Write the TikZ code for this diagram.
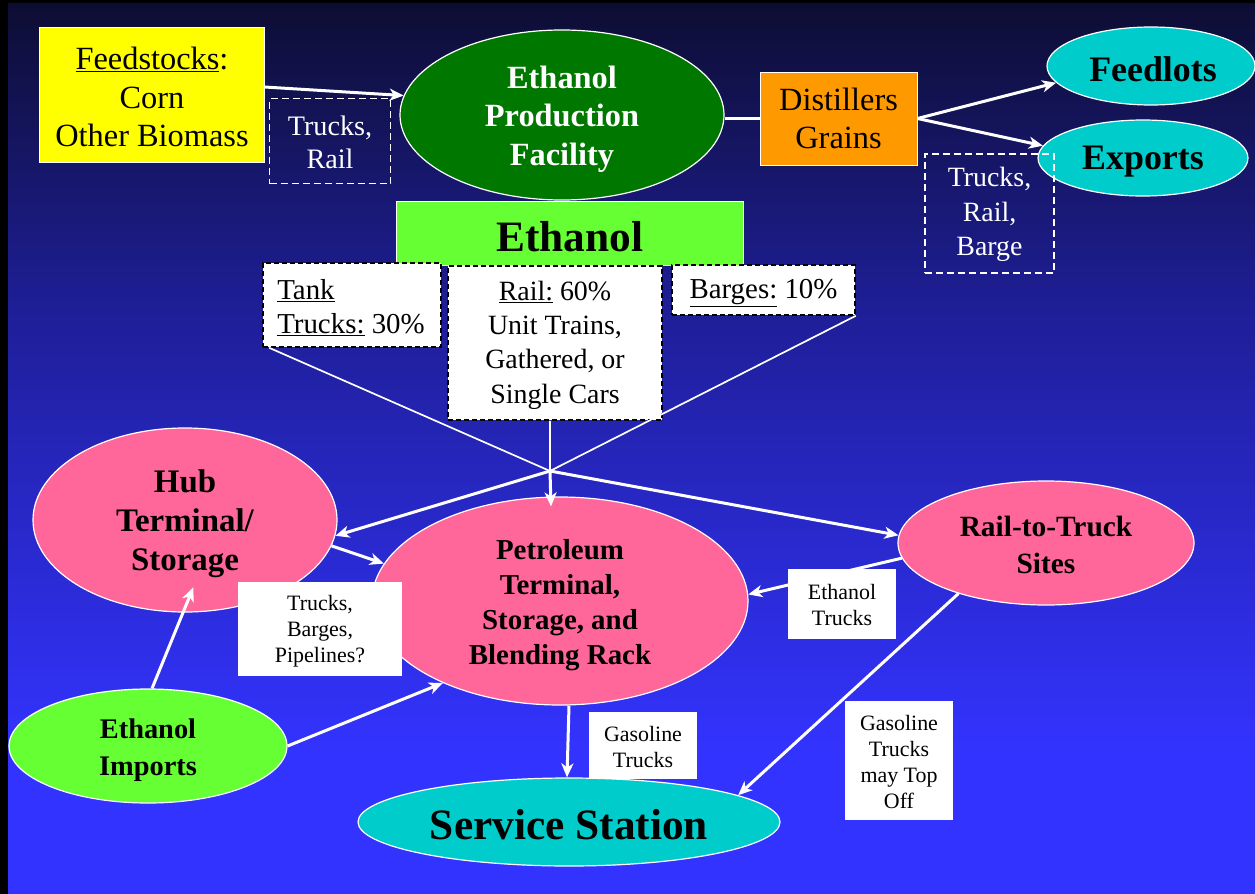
\documentclass[tikz,border=0pt]{standalone}
\usepackage{fontspec}
\setmainfont{Liberation Serif}
\usetikzlibrary{shapes.geometric,arrows.meta,calc}
\definecolor{bgT}{RGB}{13,13,50}
\definecolor{bgM}{RGB}{30,30,150}
\definecolor{bgB}{RGB}{51,51,255}
\definecolor{feedyellow}{RGB}{255,255,0}
\definecolor{ethgreen}{RGB}{0,120,0}
\definecolor{lgreen}{RGB}{102,255,51}
\definecolor{dorange}{RGB}{255,153,0}
\definecolor{teal2}{RGB}{0,204,204}
\definecolor{pink2}{RGB}{255,102,153}
\pgfdeclareverticalshading{bgshade}{100bp}{color(0bp)=(bgB); color(33bp)=(bgB); color(58bp)=(bgM); color(75bp)=(bgT); color(100bp)=(bgT)}
\newcommand\fsz[2]{\fontsize{#1}{#2}\selectfont}
\tikzset{
  ell/.style={ellipse, draw=white, line width=1.2bp, inner sep=0pt},
  fbox/.style={rectangle, draw=white, line width=1bp, inner sep=0pt},
  wdash/.style={rectangle, draw=white, line width=1.3bp, dash pattern=on 7bp off 4bp, inner sep=0pt},
  kdash/.style={rectangle, draw=black, fill=white, line width=1.6bp, dash pattern=on 5bp off 3bp, inner sep=0pt},
  wlabel/.style={rectangle, fill=white, inner sep=0pt},
  txt/.style={inner sep=0pt, align=center},
  arr/.style={draw=white, line width=3bp, -{Stealth[length=14bp,width=12bp,inset=4bp]}},
  thinw/.style={draw=white, line width=1.7bp},
  plainw/.style={draw=white, line width=3bp}
}
\begin{document}
\begin{tikzpicture}[x=1bp,y=-1bp]
\useasboundingbox (0,0) rectangle (1255,894);
\shade[shading=bgshade] (0,0) rectangle (1255,894);
\fill[black] (0,0) rectangle (8,894);
\fill[black] (0,0) rectangle (1255,3);

% top row
\node[fbox, fill=feedyellow, minimum width=224bp, minimum height=134bp] (feed) at (152,95) {};
\node[txt, font=\fsz{32.5}{39}] (feedT) at ([yshift=-2bp]feed.center) {\underline{Feedstocks}:\\Corn\\Other Biomass};
\node[wdash, minimum width=121bp, minimum height=85bp] (tr1) at (330,141) {};
\node[txt, text=white, font=\fsz{28.3}{33}] (tr1T) at ([yshift=-1bp]tr1.center) {Trucks,\\Rail};
\node[ell, fill=ethgreen, minimum width=324bp, minimum height=170bp] (ethprod) at (562,115) {};
\node[txt, text=white, font=\bfseries\fsz{32.5}{38.5}] (ethprodT) at ([yshift=-4bp]ethprod.center) {Ethanol\\Production\\Facility};
\node[fbox, fill=dorange, minimum width=157bp, minimum height=93bp] (dist) at (838.5,118.5) {};
\node[txt, font=\fsz{32.5}{38}] (distT) at (dist.center) {Distillers\\Grains};
\node[ell, fill=teal2, minimum width=208bp, minimum height=78bp] (feedlots) at (1151,66) {};
\node[txt, font=\bfseries\fsz{36}{40}] (feedlotsT) at ([xshift=2bp,yshift=-3bp]feedlots.center) {Feedlots};
\node[ell, fill=teal2, minimum width=210bp, minimum height=76bp] (exports) at (1143,158) {};
\node[txt, font=\bfseries\fsz{36}{40}] (exportsT) at ([yshift=-4bp]exports.center) {Exports};
\node[wdash, minimum width=129bp, minimum height=119bp] (tr2) at (989.5,213.5) {};
\node[txt, text=white, font=\fsz{28}{34.5}] (tr2T) at ([yshift=-1bp]tr2.center) {Trucks,\\Rail,\\Barge};

% ethanol bar and modes
\node[fbox, fill=lgreen, minimum width=347bp, minimum height=64bp] (ethbar) at (570,233) {};
\node[txt, font=\bfseries\fsz{43.5}{48}] (ethbarT) at ([yshift=-4bp]ethbar.center) {Ethanol};
\node[kdash, minimum width=178bp, minimum height=84bp] (tank) at (352,305) {};
\node[txt, align=left, font=\fsz{29}{34}] (tankT) at ([xshift=-1bp,yshift=-3bp]tank.center) {\underline{Tank}\\\underline{Trucks:} 30\%};
\node[kdash, minimum width=214bp, minimum height=154bp] (rail) at (555,343) {};
\node[txt, font=\fsz{28}{34.5}] (railT) at ([yshift=-2bp]rail.center) {\underline{Rail:} 60\%\\Unit Trains,\\Gathered, or\\Single Cars};
\node[kdash, minimum width=183bp, minimum height=50bp] (barges) at (763.5,290) {};
\node[txt, font=\fsz{29}{34}] (bargesT) at ([yshift=-3bp]barges.center) {\underline{Barges:} 10\%};

% lower ellipses
\node[ell, fill=pink2, minimum width=304bp, minimum height=184bp] (hub) at (185,520) {};
\node[txt, font=\bfseries\fsz{33}{39}] (hubT) at ([yshift=-4bp]hub.center) {Hub\\Terminal/\\Storage};
\node[ell, fill=pink2, minimum width=376bp, minimum height=208bp] (petro) at (560,601) {};
\node[txt, font=\bfseries\fsz{29}{35}] (petroT) at ([yshift=-4bp]petro.center) {Petroleum\\Terminal,\\Storage, and\\Blending Rack};
\node[ell, fill=pink2, minimum width=296bp, minimum height=124bp] (railtruck) at (1046,543) {};
\node[txt, font=\bfseries\fsz{29.5}{38}] (railtruckT) at ([yshift=-2bp]railtruck.center) {Rail-to-Truck\\Sites};
\node[ell, fill=lgreen, minimum width=278bp, minimum height=114bp] (imports) at (148,746) {};
\node[txt, font=\bfseries\fsz{28.5}{37}] (importsT) at ([yshift=-4bp]imports.center) {Ethanol\\Imports};
\node[ell, fill=teal2, minimum width=422bp, minimum height=88bp] (service) at (569,822) {};
\node[txt, font=\bfseries\fsz{43.5}{48}] (serviceT) at ([yshift=-3bp]service.center) {Service Station};

% connectors
\coordinate (x) at (550,471);
\draw[arr] ([yshift=8bp]feed.east) -- (ethprod.173);
\draw[plainw] (ethprod.east |- dist.west) -- (dist.west);
\draw[arr] (dist.east) -- (feedlots.190.6);
\draw[arr] (dist.east) -- (exports.173.7);
\draw[thinw] ([xshift=7bp]tank.south west) -- (x);
\draw[thinw] (barges.south east) -- (x);
\draw[thinw] ([xshift=-5bp]rail.south) -- (x);
\draw[arr] (x) -- (hub.-6.8);
\draw[arr] (x) -- (railtruck.177.7);
\draw[arr] (x) -- ([xshift=-9bp,yshift=-10bp]petro.north);
\draw[arr] (hub.-10.7) -- (petro.168.5);
\draw[arr] (imports.86) -- ([xshift=-3bp,yshift=25bp]hub.-83);
\draw[arr] (imports.east) -- (petro.215.7);
\draw[arr] ([xshift=9bp]petro.south) -- ([xshift=-2bp]service.north);
\draw[arr] (railtruck.186.7) -- (petro.2.8);
\draw[arr] (railtruck.210.5) -- (service.9.6);

% labels
\node[wlabel, minimum width=164bp, minimum height=94bp] (tbp) at (320,629) {};
\node[txt, font=\fsz{22}{26}] (tbpT) at ([yshift=-2bp]tbp.center) {Trucks,\\Barges,\\Pipelines?};
\node[wlabel, minimum width=108bp, minimum height=70bp] (etr) at (842,604) {};
\node[txt, font=\fsz{22}{26}] (etrT) at ([yshift=-1bp]etr.center) {Ethanol\\Trucks};
\node[wlabel, minimum width=108bp, minimum height=67bp] (gtr) at (643,745.5) {};
\node[txt, font=\fsz{22}{26}] (gtrT) at ([yshift=-1.5bp]gtr.center) {Gasoline\\Trucks};
\node[wlabel, minimum width=108bp, minimum height=119bp] (gtop) at (899,760.5) {};
\node[txt, font=\fsz{22}{26}] (gtopT) at ([yshift=-1.5bp]gtop.center) {Gasoline\\Trucks\\may Top\\Off};
\end{tikzpicture}
\end{document}
